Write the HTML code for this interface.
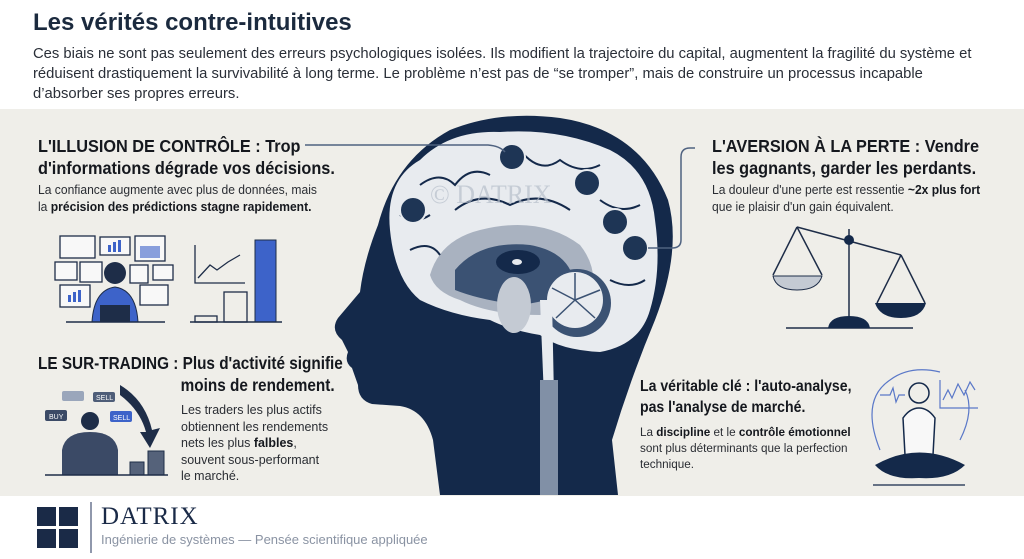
<!DOCTYPE html>
<html><head><meta charset="utf-8"><style>
*{margin:0;padding:0;box-sizing:border-box}
body{width:1024px;height:559px;overflow:hidden;background:#fff;font-family:"Liberation Sans",sans-serif;position:relative;color:#1c1f26}
.a{position:absolute;white-space:nowrap}
h1{position:absolute;left:33px;top:9px;font-size:24px;font-weight:bold;color:#1b2a3e}
.intro{left:33px;top:44px;font-size:14.8px;line-height:20px;color:#2a2f38}
.panel{left:0;top:109px;width:1024px;height:387px;background:#efeee9}
.hd{font-weight:bold;font-size:17.5px;line-height:22px;color:#15181e;transform:scaleX(0.93);transform-origin:left top}
.tx{font-size:12.6px;line-height:17px;color:#2a2d33;transform:scaleX(0.96);transform-origin:left top}
b{color:#15181e}
</style></head><body>
<h1>Les vérités contre-intuitives</h1>
<div class="a intro">Ces biais ne sont pas seulement des erreurs psychologiques isolées. Ils modifient la trajectoire du capital, augmentent la fragilité du système et<br>réduisent drastiquement la survivabilité à long terme. Le problème n’est pas de “se tromper”, mais de construire un processus incapable<br>d’absorber ses propres erreurs.</div>
<div class="a panel"></div>

<svg class="a" style="left:0;top:0" width="1024" height="559" viewBox="0 0 1024 559">
<path d="M440 495 L433 440 Q425 410 400 406 L372 404 Q358 400 358 385 L352 368 Q344 362 348 352 L342 340 Q330 330 338 318 L360 292 Q364 260 378 225 Q395 160 450 130 Q500 110 560 118 Q640 130 668 200 Q682 250 655 320 Q630 380 612 440 L618 495 Z" fill="#14294a"/>
<path d="M390 230 Q385 180 420 160 Q450 130 500 132 Q560 128 610 150 Q650 170 655 220 Q662 270 650 310 Q640 345 600 352 Q560 350 540 335 Q510 330 490 320 Q450 315 420 300 Q395 280 390 230 Z" fill="#e8ebef"/>
<path d="M430 275 Q440 240 480 230 Q540 215 580 245 Q600 270 590 300 L540 315 Q490 315 460 300 Q435 292 430 275Z" fill="#a9b2c0"/>
<path d="M455 270 Q480 240 530 245 Q570 252 575 285 Q560 300 520 305 Q480 300 455 290Z" fill="#3b5273"/>
<ellipse cx="518" cy="262" rx="22" ry="12" fill="#14294a"/>
<ellipse cx="517" cy="262" rx="5" ry="3" fill="#e8ebef"/>
<ellipse cx="514" cy="305" rx="17" ry="28" fill="#c4cad3"/>
<circle cx="577" cy="303" r="34" fill="#3b5273"/>
<circle cx="575" cy="300" r="28" fill="#e8ebef"/>
<g stroke="#3b5273" stroke-width="1.5"><line x1="575" y1="300" x2="575" y2="273"/><line x1="575" y1="300" x2="600" y2="290"/><line x1="575" y1="300" x2="552" y2="288"/><line x1="575" y1="300" x2="595" y2="318"/><line x1="575" y1="300" x2="556" y2="318"/></g>
<path d="M540 300 L548 495 L556 495 L552 300 Z" fill="#e8ebef"/>
<rect x="540" y="380" width="18" height="115" fill="#8190a6"/>
<g fill="none" stroke="#14294a" stroke-width="2">
<path d="M420 185 Q440 170 455 185 Q470 165 490 175"/><path d="M410 250 Q430 240 440 255"/><path d="M520 150 Q540 175 560 160 Q580 175 600 165"/><path d="M600 200 Q620 215 640 205"/><path d="M455 210 Q480 190 510 205 Q540 190 570 210"/><path d="M610 280 Q630 290 645 280"/><path d="M400 215 Q415 225 430 215"/>
</g>
<g fill="#1e3555" stroke="#e8ebef" stroke-width="2"><circle cx="512" cy="157" r="13"/><circle cx="587" cy="183" r="13"/><circle cx="413" cy="210" r="13"/><circle cx="615" cy="222" r="13"/><circle cx="635" cy="248" r="13"/></g>
<text x="430" y="203" font-family="Liberation Serif" font-size="26" fill="#b7bfcb" opacity="0.7">© DATRIX</text>
<path d="M305 145 L488 145 Q500 146 505 152" fill="none" stroke="#4f6280" stroke-width="1.5"/>
<path d="M648 248 L672 248 Q681 248 681 240 L681 157 Q681 148 690 148 L695 148" fill="none" stroke="#4f6280" stroke-width="1.5"/>
<g stroke="#1e2d48" stroke-width="1.3" fill="#f8f8f8">
<rect x="60" y="236" width="35" height="22"/><rect x="100" y="237" width="30" height="18"/><rect x="135" y="236" width="30" height="25"/>
<rect x="55" y="262" width="22" height="18"/><rect x="80" y="262" width="22" height="20"/><rect x="130" y="265" width="18" height="18"/><rect x="153" y="265" width="20" height="15"/>
<rect x="60" y="285" width="30" height="22"/><rect x="140" y="285" width="28" height="20"/>
</g>
<g fill="#3d63c9"><rect x="108" y="245" width="3" height="7"/><rect x="113" y="242" width="3" height="10"/><rect x="118" y="240" width="3" height="12"/><rect x="68" y="295" width="3" height="7"/><rect x="73" y="292" width="3" height="10"/><rect x="78" y="290" width="3" height="12"/><rect x="140" y="246" width="20" height="12" opacity=".6"/></g>
<circle cx="115" cy="273" r="11" fill="#1e2d48"/>
<path d="M92 322 Q94 290 115 287 Q136 290 138 322 Z" fill="#3d63c9" stroke="#1e2d48"/>
<rect x="100" y="305" width="30" height="17" fill="#1e2d48"/>
<line x1="66" y1="322" x2="165" y2="322" stroke="#1e2d48" stroke-width="1.5"/>
<g stroke="#1e2d48" stroke-width="1.3" fill="none"><path d="M195 245 L195 283 L245 283"/><path d="M198 278 L210 265 L217 270 L228 262 L240 255"/><rect x="195" y="316" width="22" height="6"/><rect x="224" y="292" width="23" height="30"/></g>
<rect x="255" y="240" width="21" height="82" fill="#3d63c9" stroke="#1e2d48"/>
<line x1="190" y1="322" x2="282" y2="322" stroke="#1e2d48" stroke-width="1.5"/>
<rect x="45" y="410" width="22" height="11" rx="2" fill="#3b4a66"/><text x="49" y="419" font-size="7" fill="#fff">BUY</text>
<rect x="62" y="391" width="22" height="10" rx="2" fill="#9aa6bb"/><rect x="93" y="392" width="22" height="10" rx="2" fill="#4e5d78"/><text x="96" y="400" font-size="7" fill="#fff">SELL</text>
<rect x="110" y="411" width="22" height="11" rx="2" fill="#3d63c9"/><text x="113" y="420" font-size="7" fill="#fff">SELL</text>
<circle cx="90" cy="421" r="9" fill="#1e2d48"/>
<path d="M62 475 L62 450 Q65 432 90 432 Q115 432 118 450 L118 475 Z" fill="#3b4a66"/>
<path d="M120 385 Q145 400 152 430 L160 428 L150 448 L140 432 L146 432 Q140 410 120 395Z" fill="#1e2d48"/>
<g fill="#55627a" stroke="#1e2d48"><rect x="130" y="462" width="14" height="13"/><rect x="148" y="451" width="16" height="24"/></g>
<line x1="45" y1="475" x2="168" y2="475" stroke="#1e2d48" stroke-width="1.5"/>
<g stroke="#1e2d48" stroke-width="1.5" fill="none">
<line x1="849" y1="229" x2="849" y2="318"/><line x1="797" y1="227" x2="901" y2="255"/>
<path d="M797 227 L773 275 M797 227 L822 275 M901 255 L877 303 M901 255 L925 303"/>
<line x1="786" y1="328" x2="913" y2="328"/>
</g>
<path d="M773 276 L822 276 Q818 290 797 290 Q776 290 773 276Z" fill="#c4cad3" stroke="#1e2d48"/>
<path d="M875 303 L926 303 Q922 318 901 318 Q880 318 875 303Z" fill="#14294a"/>
<path d="M828 328 Q830 316 849 316 Q868 316 870 328Z" fill="#14294a"/>
<circle cx="849" cy="240" r="5" fill="#14294a"/>
<g fill="none" stroke="#5a78c8" stroke-width="1.2"><path d="M880 450 Q860 400 890 380 Q910 365 940 372"/><path d="M960 440 Q975 410 965 390"/><path d="M880 395 L890 395 L893 388 L896 402 L899 395 L905 395"/><path d="M940 380 L940 408 L978 408"/><path d="M943 400 L948 390 L952 398 L958 384 L964 395 L970 382 L975 390"/></g>
<circle cx="919" cy="393" r="10" fill="none" stroke="#14294a" stroke-width="1.5"/>
<path d="M905 455 L903 418 Q910 408 919 408 Q928 408 935 418 L933 455Z" fill="#f8f8f8" stroke="#14294a" stroke-width="1.5"/>
<path d="M875 465 Q919 440 965 465 Q950 480 919 478 Q888 480 875 465Z" fill="#14294a"/>
<line x1="873" y1="485" x2="965" y2="485" stroke="#14294a" stroke-width="1.3"/>
<g fill="#1a2a47"><rect x="37" y="507" width="19" height="19"/><rect x="59" y="507" width="19" height="19"/><rect x="37" y="529" width="19" height="19"/><rect x="59" y="529" width="19" height="19"/></g>
<line x1="91" y1="502" x2="91" y2="553" stroke="#6a7690" stroke-width="1.5"/>
</svg>

<div class="a hd" style="left:38px;top:135px">L'ILLUSION DE CONTRÔLE : Trop<br>d'informations dégrade vos décisions.</div>
<div class="a tx" style="left:38px;top:182px">La confiance augmente avec plus de données, mais<br>la <b>précision des prédictions stagne rapidement.</b></div>

<div class="a hd" style="left:38px;top:352px;transform:scaleX(0.875)">LE SUR-TRADING : Plus d'activité signifie<br><span style="padding-left:163px">moins de rendement.</span></div>
<div class="a tx" style="left:181px;top:402px;font-size:13px;line-height:16.5px">Les traders les plus actifs<br>obtiennent les rendements<br>nets les plus <b>falbles</b>,<br>souvent sous-performant<br>le marché.</div>

<div class="a hd" style="left:712px;top:135px">L'AVERSION À LA PERTE : Vendre<br>les gagnants, garder les perdants.</div>
<div class="a tx" style="left:712px;top:182px">La douleur d'une perte est ressentie <b>~2x plus fort</b><br>que ie plaisir d'un gain équivalent.</div>

<div class="a hd" style="left:640px;top:376px;font-size:16px;line-height:21px;transform:scaleX(0.88)">La véritable clé : l'auto-analyse,<br>pas l'analyse de marché.</div>
<div class="a tx" style="left:640px;top:424px;font-size:12.2px;line-height:16px">La <b>discipline</b> et le <b>contrôle émotionnel</b><br>sont plus déterminants que la perfection<br>technique.</div>

<div class="a" style="left:101px;top:503px;font-family:'Liberation Serif',serif;font-size:25px;color:#1a2a47;letter-spacing:1px">DATRIX</div>
<div class="a" style="left:101px;top:532px;font-size:13px;color:#8a93a3">Ingénierie de systèmes — Pensée scientifique appliquée</div>
</body></html>
